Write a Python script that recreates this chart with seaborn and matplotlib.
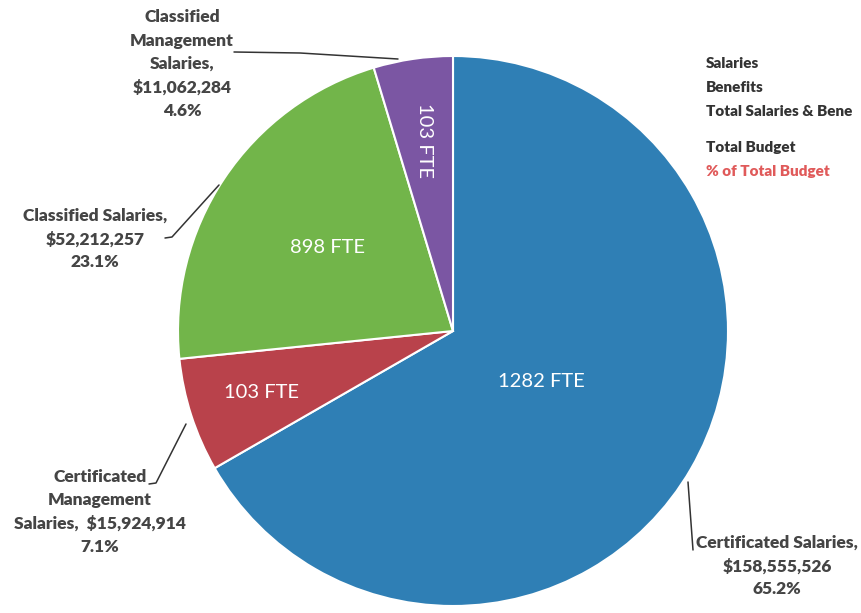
import numpy as np
import seaborn as sns
import matplotlib.pyplot as plt

# budget categories (clockwise from 12 o'clock)
categories = ["Certificated Salaries", "Certificated Management Salaries",
              "Classified Salaries", "Classified Management Salaries"]
salaries = [158555526, 15924914, 52212257, 11062284]
pct_budget = [65.2, 7.1, 23.1, 4.6]
fte = [1282, 103, 898, 103]
colors = ["#2f7fb5", "#b9424b", "#72b54a", "#7b56a3"]
side_labels = ["Salaries", "Benefits", "Total Salaries & Bene", "Total Budget", "% of Total Budget"]

sns.set_theme(style="white")
plt.rcParams["font.family"] = ["Lato", "DejaVu Sans"]

W, H = 861, 613
fig = plt.figure(figsize=(W / 100, H / 100), dpi=100)
ax = fig.add_axes([0, 0, 1, 1])


def Y(y):
    return H - y


cx, cy, R = 453, Y(331), 275
wedges, _ = ax.pie(salaries, colors=colors, startangle=90, counterclock=False,
                   center=(cx, cy), radius=R, frame=True,
                   wedgeprops=dict(edgecolor="white", linewidth=1.5))
ax.set_xlim(0, W)
ax.set_ylim(0, H)
ax.set_aspect("equal")
ax.axis("off")

# FTE labels inside wedges
rfrac = [0.37, 0.73, 0.55, 0.70]
rot = [0, 0, 0, -90]
for w, n, rf, r in zip(wedges, fte, rfrac, rot):
    a = np.deg2rad((w.theta1 + w.theta2) / 2)
    ax.text(cx + rf * R * np.cos(a), cy + rf * R * np.sin(a), f"{n} FTE",
            color="white", fontsize=14.5, ha="center", va="center", rotation=r)

txt = dict(color="#454545", fontsize=12.5, fontweight="heavy", ha="center",
           va="center", linespacing=1.55)


def money(v):
    return f"${v:,}"


ax.text(777, Y(566), f"Certificated Salaries,\n{money(salaries[0])}\n{pct_budget[0]}%", **txt)
ax.text(100, Y(512), f"Certificated\nManagement\nSalaries,  {money(salaries[1])}\n{pct_budget[1]}%", **txt)
ax.text(95, Y(239), f"Classified Salaries,\n{money(salaries[2])}\n{pct_budget[2]}%", **txt)
ax.text(182, Y(64), f"Classified\nManagement\nSalaries,\n{money(salaries[3])}\n{pct_budget[3]}%", **txt)

# leader lines
lc = dict(color="#333333", lw=1.1)
ax.plot([688, 693], [Y(482), Y(550)], **lc)
ax.plot([149, 156, 186], [Y(484), Y(483), Y(424)], **lc)
ax.plot([165, 172, 219], [Y(238), Y(237), Y(185)], **lc)
ax.plot([234, 300, 398], [Y(52), Y(53), Y(59)], **lc)

# side legend text
side = dict(fontsize=11, fontweight="heavy", ha="left", va="center")
side_y = [63, 88, 111, 148, 172]
side_c = ["#333333"] * 4 + ["#e05a5a"]
for s, yy, c in zip(side_labels, side_y, side_c):
    ax.text(706, Y(yy), s, color=c, **side)

fig.savefig("out.png", dpi=100, facecolor="white")
